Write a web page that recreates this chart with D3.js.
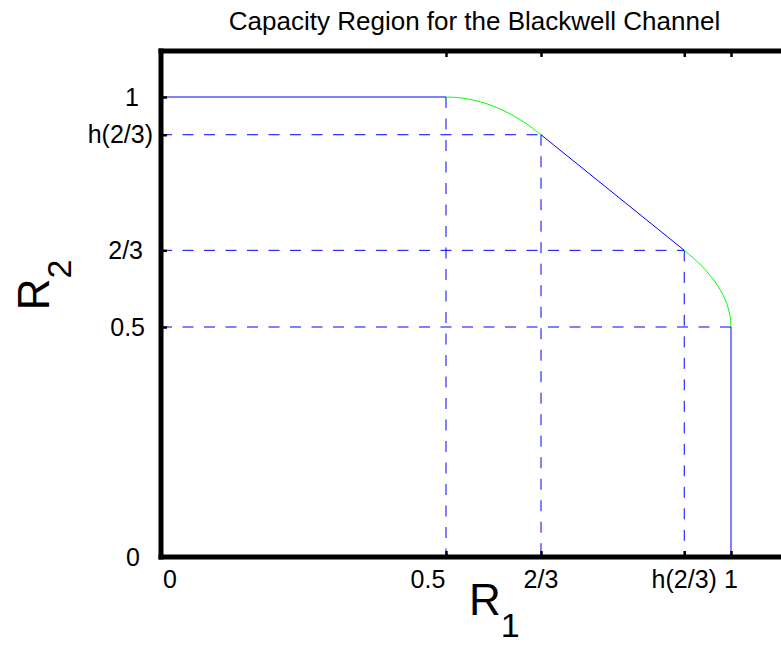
<!DOCTYPE html>
<html>
<head>
<meta charset="utf-8">
<script src="https://cdn.jsdelivr.net/npm/d3@7"></script>
<style>
  html, body { margin: 0; padding: 0; background: #fff; overflow: hidden; width: 781px; height: 645px; }
  svg { display: block; overflow: hidden; font-family: Arial, "Liberation Sans", Helvetica, sans-serif; }
</style>
</head>
<body>
<svg id="chart" width="781" height="645" viewBox="0 0 781 645"></svg>
<script>
// Key rates of the Blackwell channel capacity region
const hTwoThirds = 0.918;             // binary entropy h(2/3)

// Axis ticks and their labels
const xTicks = [0, 0.5, 2 / 3, hTwoThirds, 1];
const xTickLabels = ["0", "0.5", "2/3", "h(2/3)", "1"];
const yTicks = [0, 0.5, 2 / 3, hTwoThirds, 1];
const yTickLabels = ["0", "0.5", "2/3", "h(2/3)", "1"];

// Upper boundary curve: R2 = h(R1) for R1 in [1/2, 2/3]
const curveUpperR1 = [0.50, 0.52, 0.54, 0.56, 0.58, 0.60, 0.62, 0.64, 0.6667];
const curveUpperR2 = [1.000, 0.9988, 0.9954, 0.9896, 0.9815, 0.9710, 0.9580, 0.9427, 0.918];

// Lower boundary curve: R1 = h(R2) for R2 in [1/2, 2/3]
const curveLowerR1 = [0.918, 0.9427, 0.9580, 0.9710, 0.9815, 0.9896, 0.9954, 0.9988, 1.000];
const curveLowerR2 = [0.6667, 0.64, 0.62, 0.60, 0.58, 0.56, 0.54, 0.52, 0.50];

// Straight parts of the boundary (blue)
const flatTopR1 = [0, 0.5];
const flatTopR2 = [1, 1];
const timeShareR1 = [2 / 3, hTwoThirds];
const timeShareR2 = [hTwoThirds, 2 / 3];
const rightEdgeR1 = [1, 1];
const rightEdgeR2 = [0.5, 0];

// Dashed guide lines: horizontal ones run from R1=0, vertical ones drop to R2=0
const guideH = [ { r2: hTwoThirds, r1: 2 / 3 }, { r2: 2 / 3, r1: hTwoThirds }, { r2: 0.5, r1: 1 } ];
const guideV = [ { r1: 0.5, r2: 1 }, { r1: 2 / 3, r2: hTwoThirds }, { r1: hTwoThirds, r2: 2 / 3 } ];

const xDomain = [0, 1.1];
const yDomain = [0, 1.1];

const svg = d3.select("#chart");
const W = 781;
const plotLeft = 161, plotTop = 51, plotW = 627, plotH = 506;

const x = d3.scaleLinear().domain(xDomain).range([plotLeft, plotLeft + plotW]);
const y = d3.scaleLinear().domain(yDomain).range([plotTop + plotH, plotTop]);

const zip = (a, b) => a.map((v, i) => [v, b[i]]);
const line = d3.line().x(d => x(d[0])).y(d => y(d[1]));
const smooth = d3.line().x(d => x(d[0])).y(d => y(d[1])).curve(d3.curveCatmullRom);

const blue = "#0000ff", green = "#00ff00";

// Guide lines
const guides = svg.append("g")
  .attr("fill", "none").attr("stroke", blue).attr("stroke-width", 1)
  .attr("stroke-dasharray", "11,10.5");
guideH.forEach(g => guides.append("path").attr("d", line([[0, g.r2], [g.r1, g.r2]])));
guideV.forEach(g => guides.append("path").attr("d", line([[g.r1, g.r2], [g.r1, 0]])));

// Boundary of the region
const bound = svg.append("g").attr("fill", "none").attr("stroke-width", 1);
bound.append("path").attr("stroke", blue).attr("d", line(zip(flatTopR1, flatTopR2)));
bound.append("path").attr("stroke", green).attr("d", smooth(zip(curveUpperR1, curveUpperR2)));
bound.append("path").attr("stroke", blue).attr("d", line(zip(timeShareR1, timeShareR2)));
bound.append("path").attr("stroke", green).attr("d", smooth(zip(curveLowerR1, curveLowerR2)));
bound.append("path").attr("stroke", blue).attr("d", line(zip(rightEdgeR1, rightEdgeR2)));

// Axes with inward ticks
const tickLen = 6;
const axisG = svg.append("g");
const bottomAxis = d3.axisBottom(x).tickValues(xTicks).tickSizeInner(-tickLen).tickSizeOuter(0).tickFormat("");
const topAxis = d3.axisTop(x).tickValues(xTicks).tickSizeInner(-tickLen).tickSizeOuter(0).tickFormat("");
const leftAxis = d3.axisLeft(y).tickValues(yTicks).tickSizeInner(-tickLen).tickSizeOuter(0).tickFormat("");

[[bottomAxis, `translate(0,${y(0)})`], [topAxis, `translate(0,${y(1.1)})`], [leftAxis, `translate(${x(0)},0)`]]
  .forEach(([ax, tr]) => {
    const g = axisG.append("g").attr("transform", tr).call(ax);
    g.select(".domain").remove();
    g.selectAll(".tick line").attr("stroke", "#000").attr("stroke-width", 2.5);
  });

// Thick frame: left, bottom and top edges run off the right side of the page
const frame = svg.append("g").attr("stroke", "#000").attr("stroke-width", 5).attr("fill", "none");
frame.append("line").attr("x1", x(0)).attr("x2", x(0)).attr("y1", y(1.1) - 2.5).attr("y2", y(0) + 2.5);
frame.append("line").attr("x1", x(0) - 2.5).attr("x2", W).attr("y1", y(0)).attr("y2", y(0));
frame.append("line").attr("x1", x(0) - 2.5).attr("x2", W).attr("y1", y(1.1)).attr("y2", y(1.1));

// Tick labels
const fs = 25;
const xLabelShift = { "0": 9, "0.5": -18 };
svg.append("g").selectAll("text").data(xTicks).join("text")
  .attr("x", (d, i) => x(d) + (xLabelShift[xTickLabels[i]] || 0))
  .attr("y", y(0) + 31)
  .attr("text-anchor", "middle")
  .attr("font-size", fs)
  .text((d, i) => xTickLabels[i]);

const yLabelShift = { "0": -13, "0.5": -8, "2/3": -10, "1": -14 };
svg.append("g").selectAll("text").data(yTicks).join("text")
  .attr("x", (d, i) => x(0) - 8 + (yLabelShift[yTickLabels[i]] || 0))
  .attr("y", d => y(d))
  .attr("dy", "0.35em")
  .attr("text-anchor", "end")
  .attr("font-size", fs)
  .text((d, i) => yTickLabels[i]);

// Title
svg.append("text")
  .attr("x", (x(0) + x(1.1)) / 2).attr("y", 30)
  .attr("text-anchor", "middle")
  .attr("font-size", 26)
  .text("Capacity Region for the Blackwell Channel");

// Axis labels with subscripts
const xl = svg.append("text").attr("x", 469).attr("y", 615).attr("font-size", 44);
xl.append("tspan").text("R");
xl.append("tspan").attr("font-size", 34).attr("dy", 22).text("1");

const yl = svg.append("text")
  .attr("transform", `translate(49,285) rotate(-90)`)
  .attr("text-anchor", "middle").attr("font-size", 44);
yl.append("tspan").text("R");
yl.append("tspan").attr("font-size", 34).attr("dy", 22).text("2");
</script>
</body>
</html>
